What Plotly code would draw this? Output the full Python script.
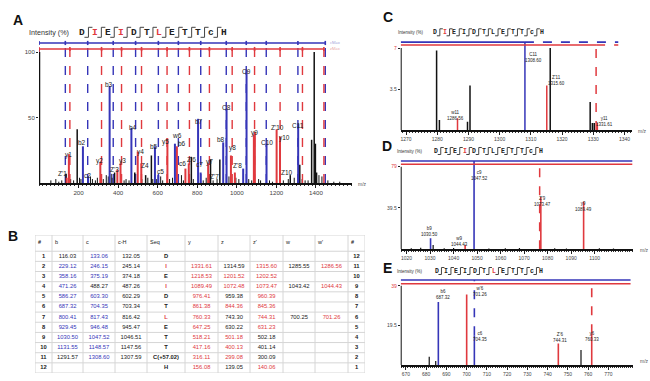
import plotly.graph_objects as go

W, H = 650, 381
BLUE = "#3535b8"
RED = "#e0393e"
BLK = "#111111"

# ---------------- Panel A data ----------------
A_black_mz = [137, 193, 382, 484, 539, 568, 770, 867, 914, 1270, 1318, 1378, 1391, 1397, 1403]
A_black_int = [7, 41, 8, 8, 6, 21, 20, 18, 18, 6, 14, 33, 100, 30, 8]
A_noise_mz = [60, 85, 100, 115, 160, 175, 205, 212, 260, 270, 285, 295, 325, 340, 350, 365, 370, 430, 440,
              455, 520, 550, 575, 595, 615, 625, 660, 675, 720, 730, 780, 830, 845, 880, 900, 960, 995, 1010,
              1060, 1075, 1110, 1120, 1165, 1180, 1235, 1260, 1290, 1330, 1345, 1360, 1415, 1430, 1460, 1490, 1520]
A_noise_int = [2, 3, 1, 2, 3, 2, 4, 3, 5, 3, 2, 4, 3, 6, 5, 7, 4, 2, 3, 2, 3, 4, 3, 3, 5, 2, 3, 4, 6, 2, 3, 2,
               4, 2, 3, 5, 4, 3, 3, 2, 3, 2, 2, 1, 2, 3, 4, 3, 2, 2, 6, 5, 2, 1, 1]
A_blue_mz = [222, 248, 357, 467, 586, 603, 687, 804, 817, 931, 948, 1032, 1049, 1150, 1310]
A_blue_int = [28, 5, 74, 42, 28, 6, 30, 49, 8, 31, 56.5, 11, 86, 30, 45]
A_red_mz = [140, 151, 310, 396, 412, 499, 517, 649, 697, 740, 757, 855, 970, 990, 1086, 1091, 1201, 1218]
A_red_int = [4, 22, 16, 10, 15, 24, 15, 34, 28, 11, 15, 15, 21, 8, 37, 39, 41, 35.5]
A_c_ions = [133.06, 246.15, 375.19, 488.27, 603.30, 704.35, 817.43, 946.48, 1047.52, 1148.57, 1308.60]
A_y_ions = [156.08, 316.11, 417.16, 518.21, 647.25, 760.33, 861.38, 976.41, 1089.49, 1218.53, 1331.61]
A_term_blue = [0, 1447]
A_term_red = [0, 1440]
A_lab_text = ["Z'1", "y1", "b2", "c2", "y2", "b3", "Z'3", "y3", "b4", "y4", "Z4", "b5", "c5", "y5", "w6", "b6",
              "c6", "Z'6", "b7", "c7", "y7", "Z'7", "b8", "C8", "y8", "Z'8", "C9", "y9", "C10", "Z'10", "y10",
              "Z10", "C11"]
A_lab_mz = [117, 149, 219, 247, 306, 354, 382, 421, 475, 514, 538, 581, 615, 640, 695, 723,
            725, 770, 808, 813, 863, 885, 919, 948, 976, 1002, 1049, 1091, 1150, 1204, 1243, 1255, 1310]
A_lab_int = [6.9, 21.4, 31, 6, 17, 75, 10.4, 17, 42.5, 24, 13.7, 27.7, 9, 31.5, 36.6, 30,
             15, 18, 47, 14, 15.8, 4.8, 33, 57.5, 27, 13, 85.5, 38, 31, 42, 34.6, 8, 44]
A_xticks = [200, 400, 600, 800, 1000, 1200, 1400]
A_yticks = [50, 100]

# ---------------- Panel C data ----------------
C_black_mz = [1279.8, 1280.7, 1289.7, 1290.5, 1316.2, 1329.0, 1329.7, 1330.3]
C_black_int = [6.8, 0.85, 0.7, 3.8, 7.0, 2.4, 0.6, 0.6]
C_red_mz = [1286.5, 1315.1, 1331.3]
C_red_int = [1.0, 3.8, 0.6]
C_blue_full = [1308.1]
C_red_dash = [1330.9]
C_lab_text = ["C11<br>1308.60", "Z'11<br>1315.60", "w11<br>1286.56", "y11<br>1331.61"]
C_lab_mz = [1310.8, 1318.3, 1285.7, 1333.6]
C_lab_int = [6.2, 4.27, 1.2, 0.75]
C_xticks = [1270, 1280, 1290, 1300, 1310, 1320, 1330, 1340]
C_yticks = [3.5, 7]

# ---------------- Panel D data ----------------
D_black_mz = [1031.3, 1022, 1026, 1036, 1040, 1055, 1062, 1068, 1083, 1088, 1102, 1108]
D_black_int = [4, 1, 1.5, 1, 1.2, 0.8, 1, 1.2, 1, 0.8, 1, 0.8]
D_blue_mz = [1030.2]
D_blue_int = [10.5]
D_red_mz = [1044.9, 1077.1, 1095.3]
D_red_int = [4, 50, 45.5]
D_blue_full = [1048.7]
D_red_dash = [1076.6]
D_lab_text = ["c9<br>1047.52", "Z'9<br>1073.47", "y9<br>1089.49", "b9<br>1030.50", "w9<br>1044.43"]
D_lab_mz = [1051.2, 1077.6, 1095.1, 1029.9, 1042.4]
D_lab_int = [71, 45.5, 41.4, 16.8, 7.9]
D_xticks = [1020, 1030, 1040, 1050, 1060, 1070, 1080, 1090, 1100]
D_yticks = [39.5, 79]

# ---------------- Panel E data ----------------
E_black_mz = [681.5, 684.7, 756.5]
E_black_int = [4.1, 2.0, 7.4]
E_blue_mz = [686.0, 703.8]
E_blue_int = [31, 14.7]
E_red_mz = [700.0, 745.3, 761.8]
E_red_int = [34.7, 10.6, 15.6]
E_blue_dash = [703.8]
E_blue_dash_from = [14.7]
E_red_dash = [761.8]
E_red_dash_from = [15.6]
E_lab_text = ["b6<br>687.32", "w'6<br>701.26", "c6<br>704.35", "Z'6<br>744.31", "y6<br>760.33"]
E_lab_mz = [688.5, 706.5, 706.5, 746.1, 761.8]
E_lab_int = [34.8, 36, 13.9, 13.6, 13.9]
E_xticks = [670, 680, 690, 700, 710, 720, 730, 740, 750, 760, 770]
E_yticks = [19.5, 39]

# ---------------- Table B data ----------------
T_header = ["#", "b", "c", "c-H", "Seq", "y", "z", "z'", "w", "w'", "#"]
T_num = [str(i) for i in range(1, 13)]
T_b = ["116.03", "229.12", "358.16", "471.26", "586.27", "687.32", "800.41", "929.45", "1030.50", "1131.55", "1291.57", ""]
T_b_col = ["k", "b", "b", "b", "b", "b", "b", "b", "b", "b", "k", "k"]
T_c = ["133.06", "246.15", "375.19", "488.27", "603.30", "704.35", "817.43", "946.48", "1047.52", "1148.57", "1308.60", ""]
T_c_col = ["b", "b", "b", "k", "b", "b", "b", "b", "b", "b", "b", "k"]
T_cH = ["132.05", "245.14", "374.18", "487.26", "602.29", "703.34", "816.42", "945.47", "1046.51", "1147.56", "1307.59", ""]
T_seq = ["D", "I", "E", "I", "D", "T", "L", "E", "T", "T", "C(+57.02)", "H"]
T_seq_col = ["k", "r", "k", "r", "k", "k", "r", "k", "k", "k", "k", "k"]
T_y = ["", "1331.61", "1218.53", "1089.49", "976.41", "861.38", "760.33", "647.25", "518.21", "417.16", "316.11", "156.08"]
T_z = ["", "1314.59", "1201.52", "1072.48", "959.38", "844.36", "743.30", "630.22", "501.18", "400.13", "299.08", "139.05"]
T_z_col = ["k", "k", "r", "r", "k", "r", "k", "k", "r", "r", "r", "k"]
T_zp = ["", "1315.60", "1202.52", "1073.47", "960.39", "845.36", "744.31", "631.23", "502.18", "401.14", "300.09", "140.06"]
T_zp_col = ["r", "r", "r", "r", "r", "r", "r", "r", "k", "k", "k", "r"]
T_w = ["", "1285.55", "", "1043.42", "", "", "700.25", "", "", "", "", ""]
T_wp = ["", "1286.56", "", "1044.43", "", "", "701.26", "", "", "", "", ""]
T_num_r = [str(i) for i in range(12, 0, -1)]
T_colw = [17, 31, 32, 32, 38, 33, 32, 33, 32, 33, 17]

SEQ = ["D", "I", "E", "I", "D", "T", "L", "E", "T", "T", "c", "H"]

# ---------------- helpers ----------------
def px(x):
    return x / W


def py(y):
    return 1 - y / H


def sticks(mz, top, base=None):
    xs, ys = [], []
    for i, (m, t) in enumerate(zip(mz, top)):
        b = 0 if base is None else base[i]
        xs += [m, m, None]
        ys += [b, t, None]
    return xs, ys


fig = go.Figure()


def add_sticks(mz, top, color, width, ax, dash="solid", base=None):
    xs, ys = sticks(mz, top, base)
    fig.add_trace(go.Scatter(x=xs, y=ys, mode="lines", line=dict(color=color, width=width, dash=dash),
                             xaxis="x" + ax, yaxis="y" + ax, hoverinfo="skip", showlegend=False))


def add_hline(x0, x1, yv, color, width, ax, dash="solid"):
    fig.add_trace(go.Scatter(x=[x0, x1], y=[yv, yv], mode="lines", line=dict(color=color, width=width, dash=dash),
                             xaxis="x" + ax, yaxis="y" + ax, hoverinfo="skip", showlegend=False))


def add_labels(texts, xs, ys, ax, size):
    for t, x, y in zip(texts, xs, ys):
        fig.add_annotation(x=x, y=y, text=t, showarrow=False, xref="x" + ax, yref="y" + ax,
                           font=dict(size=size, color="#222", family="Liberation Sans"),
                           xanchor="center", yanchor="middle", borderpad=0)


# ---------------- Panel A ----------------
AX = ""
A_blue_bar, A_red_bar = 106.9, 102.3
add_sticks(A_noise_mz, A_noise_int, BLK, 1, AX)
add_sticks(A_c_ions + A_term_blue, [A_blue_bar] * (len(A_c_ions) + 2), BLUE, 1.4, AX, dash="dash")
add_sticks(A_y_ions + A_term_red, [A_red_bar] * (len(A_y_ions) + 2), RED, 1.4, AX, dash="dash")
add_sticks(A_black_mz, A_black_int, BLK, 1.5, AX)
add_sticks(A_red_mz, A_red_int, RED, 2, AX)
add_sticks(A_blue_mz, A_blue_int, BLUE, 2, AX)
add_sticks([0], [100], BLK, 2.5, AX)
add_hline(0, A_term_blue[1], A_blue_bar, BLUE, 1.6, AX)
add_hline(0, A_term_red[1], A_red_bar, RED, 1.6, AX)
add_sticks(A_c_ions + A_term_blue, [A_blue_bar + 1.6] * 13, BLUE, 1.6, AX,
           base=[A_blue_bar - 1.6] * 13)
add_sticks(A_y_ions + A_term_red, [A_red_bar + 1.6] * 13, RED, 1.6, AX,
           base=[A_red_bar - 1.6] * 13)
add_labels(A_lab_text, A_lab_mz, A_lab_int, AX, 6.5)
fig.add_annotation(x=A_term_blue[1] + 15, y=A_blue_bar, text="cMax", showarrow=False, xref="x", yref="y",
                   xanchor="left", font=dict(size=4, color="#9a9ad8"))
fig.add_annotation(x=A_term_red[1] + 22, y=A_red_bar, text="zMax", showarrow=False, xref="x", yref="y",
                   xanchor="left", font=dict(size=4, color="#e8a0a0"))

# ---------------- Panel C ----------------
CX = "2"
C_blue_bar, C_red_bar = 7.51, 7.26
add_sticks(C_black_mz, C_black_int, BLK, 1.5, CX)
add_sticks(C_red_mz, C_red_int, RED, 1.5, CX)
add_sticks(C_blue_full, [C_blue_bar], BLUE, 1.5, CX)
add_sticks(C_red_dash, [C_red_bar], RED, 1.5, CX, dash="dash")
add_sticks([1268.3], [7], BLK, 2, CX)
add_hline(1268.3, C_blue_full[0], C_blue_bar, BLUE, 1.6, CX)
add_hline(C_blue_full[0], 1338, C_blue_bar, BLUE, 1.6, CX, dash="dash")
add_hline(1268.3, C_red_dash[0], C_red_bar, RED, 1.6, CX)
add_hline(C_red_dash[0], 1338, C_red_bar, RED, 1.6, CX, dash="dash")
add_labels(C_lab_text, C_lab_mz, C_lab_int, CX, 4.5)

# ---------------- Panel D ----------------
DX = "3"
D_blue_bar, D_red_bar = 84.4, 81.3
add_sticks(D_black_mz, D_black_int, BLK, 1.2, DX)
add_sticks(D_red_dash, [D_red_bar], RED, 1.5, DX, dash="dash")
add_sticks(D_red_mz, D_red_int, RED, 1.6, DX)
add_sticks(D_blue_mz, D_blue_int, BLUE, 1.6, DX)
add_sticks(D_blue_full, [D_blue_bar], BLUE, 1.6, DX)
add_sticks([1017.5], [79], BLK, 2, DX)
add_hline(1017.5, 1116, D_blue_bar, BLUE, 1.6, DX)
add_hline(1017.5, 1116, D_red_bar, RED, 1.6, DX)
add_labels(D_lab_text, D_lab_mz, D_lab_int, DX, 4.5)

# ---------------- Panel E ----------------
EX = "4"
E_blue_bar, E_red_bar = 41.8, 40.0
add_sticks(E_black_mz, E_black_int, BLK, 1.2, EX)
add_sticks(E_red_mz, E_red_int, RED, 1.6, EX)
add_sticks(E_blue_mz, E_blue_int, BLUE, 1.6, EX)
add_sticks(E_blue_dash, [E_blue_bar], BLUE, 1.6, EX, dash="dash", base=E_blue_dash_from)
add_sticks(E_red_dash, [E_red_bar], RED, 1.6, EX, dash="dash", base=E_red_dash_from)
add_sticks([667.4], [39], BLK, 2, EX)
add_hline(667.4, 781, E_blue_bar, BLUE, 1.6, EX)
add_hline(667.4, 781, E_red_bar, RED, 1.6, EX)
add_labels(E_lab_text, E_lab_mz, E_lab_int, EX, 4.5)

# ---------------- Table B (drawn on its own axes) ----------------
TX = "5"
cmap = {"k": "#222222", "b": BLUE, "r": RED}
allk = ["k"] * 12
allr = ["r"] * 12
col_codes = [allk, T_b_col, T_c_col, allk, T_seq_col, allr, T_z_col, T_zp_col, allk, allr, allk]
col_vals = [["<b>%s</b>" % n for n in T_num], T_b, T_c, T_cH, ["<b>%s</b>" % s for s in T_seq], T_y, T_z, T_zp,
            T_w, T_wp, ["<b>%s</b>" % n for n in T_num_r]]
HDR = 1.6
bounds = [0]
for wdt in T_colw:
    bounds.append(bounds[-1] + wdt)
n_rows = len(T_num)
gx, gy = [], []
ybounds = [0, HDR] + [HDR + r + 1 for r in range(n_rows)]
for yb in ybounds:
    gx += [0, bounds[-1], None]
    gy += [yb, yb, None]
for xb in bounds:
    gx += [xb, xb, None]
    gy += [0, ybounds[-1], None]
fig.add_trace(go.Scatter(x=gx, y=gy, mode="lines", line=dict(color="#d6d6d6", width=1),
                         xaxis="x" + TX, yaxis="y" + TX, hoverinfo="skip", showlegend=False))
fig.add_trace(go.Scatter(x=[b + 3 for b in bounds[:-1]], y=[HDR / 2] * len(T_header), mode="text",
                         text=["<b>#</b>" if h == "#" else h for h in T_header], textposition="middle right",
                         textfont=dict(size=5.5, color="#222", family="Liberation Sans"),
                         xaxis="x" + TX, yaxis="y" + TX, hoverinfo="skip", showlegend=False))
cx, cy, ct, cc = [], [], [], []
for ci, (vals, codes) in enumerate(zip(col_vals, col_codes)):
    xc = (bounds[ci] + bounds[ci + 1]) / 2
    for r, (v, code) in enumerate(zip(vals, codes)):
        if v == "":
            continue
        cx.append(xc)
        cy.append(HDR + r + 0.5)
        ct.append(v)
        cc.append(cmap[code])
fig.add_trace(go.Scatter(x=cx, y=cy, mode="text", text=ct, textposition="middle center",
                         textfont=dict(size=5.8, color=cc, family="Liberation Sans"),
                         xaxis="x" + TX, yaxis="y" + TX, hoverinfo="skip", showlegend=False))

# ---------------- sequences & labels ----------------
shapes = []


def draw_seq(x0, yc, step, fsize, reds, bh, tick):
    for i, s in enumerate(SEQ):
        fig.add_annotation(x=px(x0 + i * step), y=py(yc), xref="paper", yref="paper", text="<b>%s</b>" % s,
                           showarrow=False, xanchor="center", yanchor="middle", borderpad=0,
                           font=dict(size=fsize, family="Liberation Mono", color=RED if i in reds else "#222"))
        if i < len(SEQ) - 1:
            xb = x0 + (i + 0.5) * step
            path = "M %f,%f L %f,%f L %f,%f L %f,%f" % (
                px(xb - tick), py(yc + bh / 2), px(xb), py(yc + bh / 2), px(xb), py(yc - bh / 2),
                px(xb + tick), py(yc - bh / 2))
            shapes.append(dict(type="path", path=path, xref="paper", yref="paper",
                               line=dict(color="#444", width=1)))


def intensity_label(xc, yc, size):
    fig.add_annotation(x=px(xc), y=py(yc), xref="paper", yref="paper", text="Intensity (%)", showarrow=False,
                       xanchor="center", yanchor="middle", borderpad=0,
                       font=dict(size=size, color="#333", family="Liberation Sans"))


draw_seq(82, 32.3, 12.9, 9.5, [1, 3, 6], 10, 4)
intensity_label(49, 32, 7.2)
draw_seq(435, 32.3, 9.7, 6.5, [1], 7, 3)
intensity_label(411, 32, 4.5)
draw_seq(436, 151, 9.5, 6.5, [3], 7, 3)
intensity_label(410, 151, 4.5)
draw_seq(436.7, 271, 9.5, 6.5, [6], 7, 3)
intensity_label(410, 271, 4.5)

for lab, xx, yy in [("A", 18, 20), ("B", 13, 236), ("C", 388, 17), ("D", 387, 146), ("E", 387, 268)]:
    fig.add_annotation(x=px(xx), y=py(yy), xref="paper", yref="paper", text="<b>%s</b>" % lab, showarrow=False,
                       xanchor="center", yanchor="middle",
                       font=dict(size=14, color="#111", family="Liberation Sans"))

for xx, yy in [(356, 184), (636, 131), (638, 250), (638, 366)]:
    fig.add_annotation(x=px(xx), y=py(yy), xref="paper", yref="paper", text="m/z", showarrow=False,
                       xanchor="left", font=dict(size=5, color="#555", family="Liberation Sans"))

# ---------------- axes ----------------
def xax(domain, rng, ticks, fsize, dtick_minor):
    return dict(domain=domain, range=rng, tickvals=ticks, ticks="outside", ticklen=3, tickwidth=1,
                tickcolor="#222", showline=True, linecolor="#111", linewidth=1.5, showgrid=False, zeroline=False,
                tickfont=dict(size=fsize, color="#444", family="Liberation Sans"), automargin=False,
                minor=dict(ticks="outside", ticklen=1.5, dtick=dtick_minor, tickcolor="#333"))


def yax(domain, rng, ticks, fsize, anchor, red_top=False):
    text = [str(t) for t in ticks]
    if red_top:
        text[-1] = '<span style="color:%s">%s</span>' % (RED, text[-1])
    return dict(domain=domain, range=rng, tickvals=ticks, ticktext=text, ticks="outside", ticklen=2,
                tickcolor="#222", showline=False, showgrid=False, zeroline=False, anchor=anchor, automargin=False,
                tickfont=dict(size=fsize, color="#444", family="Liberation Sans"))


hidden = dict(visible=False, showgrid=False, zeroline=False, fixedrange=True)
fig.update_layout(
    width=W, height=H, margin=dict(l=0, r=0, t=0, b=0, pad=0), paper_bgcolor="white", plot_bgcolor="white",
    showlegend=False, shapes=shapes, hovermode=False,
    xaxis=dict(xax([px(39), px(352)], [0, 1582], A_xticks, 6.2, 20), anchor="y"),
    yaxis=yax([py(183), py(38)], [0, 110.7], A_yticks, 6, "x"),
    xaxis2=dict(xax([px(400.7), px(632)], [1268.3, 1342.4], C_xticks, 5, 1), anchor="y2"),
    yaxis2=yax([py(130), py(40)], [0, 7.69], C_yticks, 5, "x2", True),
    xaxis3=dict(xax([px(400.7), px(633)], [1017.5, 1116.3], D_xticks, 5, 1), anchor="y3"),
    yaxis3=yax([py(249.3), py(158)], [0, 87.3], D_yticks, 5, "x3", True),
    xaxis4=dict(xax([px(400.7), px(633)], [667.4, 782.2], E_xticks, 5, 1), anchor="y4"),
    yaxis4=yax([py(365), py(276)], [0, 43.8], E_yticks, 5, "x4", True),
    xaxis5=dict(hidden, domain=[px(35), px(365)], range=[0, bounds[-1]], anchor="y5"),
    yaxis5=dict(hidden, domain=[py(373), py(235)], range=[ybounds[-1], 0], anchor="x5"),
)

fig.write_html("out.html", config={"displayModeBar": False, "staticPlot": True},
               post_script="document.body.style.margin='0';document.body.style.overflow='hidden';")
